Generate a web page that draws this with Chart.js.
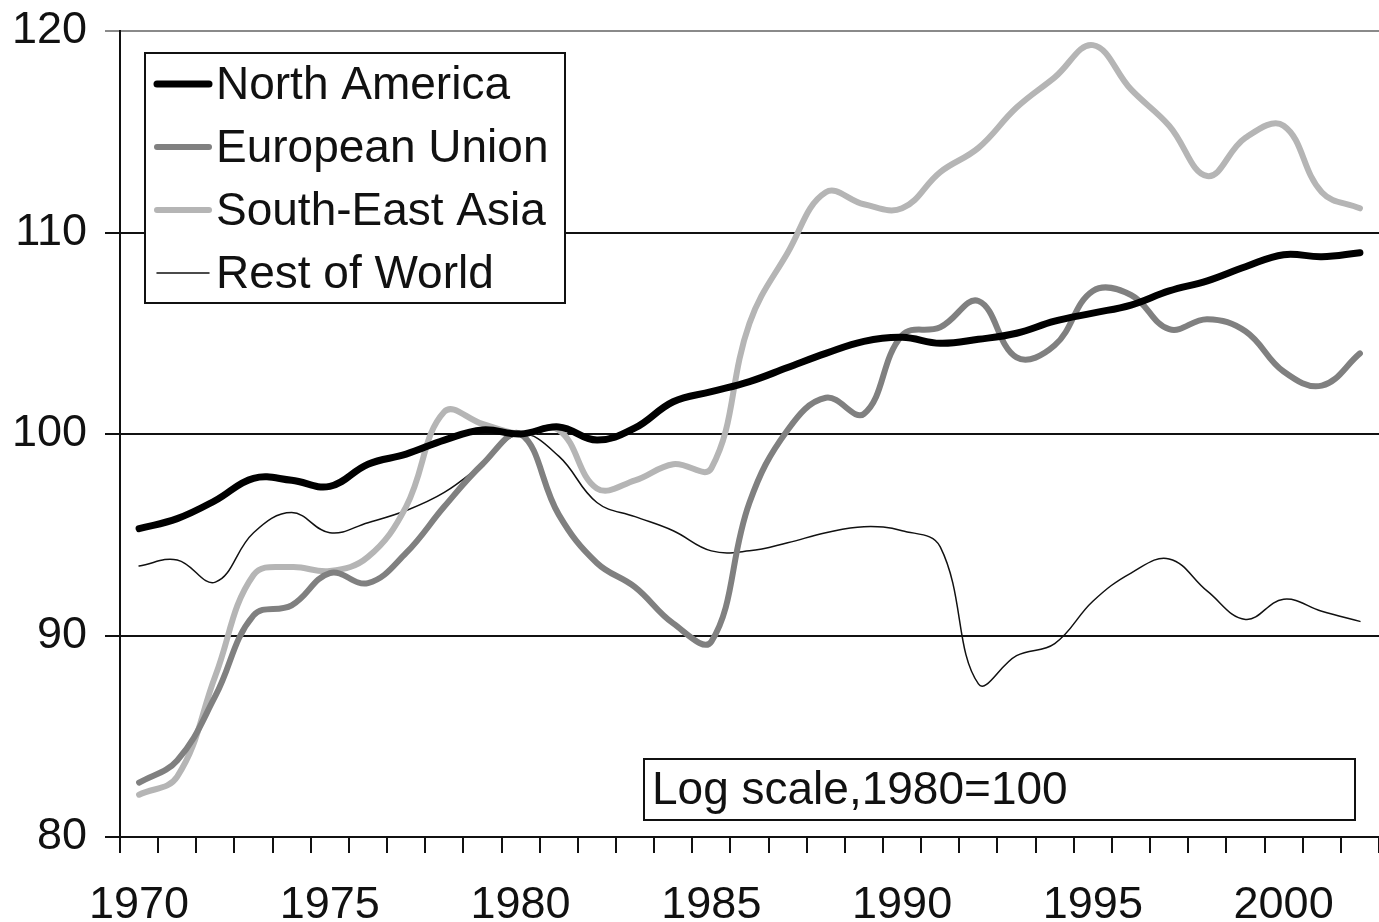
<!DOCTYPE html>
<html lang="en">
<head>
    <meta charset="UTF-8">
    <title>Regional index, 1980=100</title>
    <script src="https://cdn.jsdelivr.net/npm/chart.js@4.4.1/dist/chart.umd.min.js"></script>
    <style>
        body { margin: 0; background: #fff; }
    </style>
</head>
<body>
    <canvas id="mychart" width="1379" height="922"></canvas>
<script>
    const years = [];
    for (let y = 1970; y <= 2002; y++) years.push(String(y));

    const northAmerica = [95.3, 95.8, 96.7, 97.8, 97.7, 97.4, 98.5, 99.0, 99.7, 100.2,
        100.0, 100.35, 99.7, 100.3, 101.6, 102.1, 102.6, 103.3, 104.0, 104.6,
        104.8, 104.5, 104.7, 105.0, 105.6, 106.0, 106.4, 107.1, 107.6, 108.3,
        108.9, 108.8, 109.0];
    const europeanUnion = [82.7, 83.8, 87.0, 91.0, 91.5, 93.1, 92.6, 94.1, 96.4, 98.5,
        100.0, 96.0, 93.6, 92.4, 90.6, 89.7, 96.6, 100.2, 101.8, 101.0,
        104.9, 105.3, 106.6, 103.8, 104.4, 107.1, 106.9, 105.2, 105.7, 105.1,
        103.1, 102.4, 104.0];
    const southEastAsia = [82.1, 83.0, 88.0, 93.0, 93.4, 93.2, 93.9, 96.4, 101.1, 100.5,
        100.0, 100.2, 97.3, 97.7, 98.5, 98.3, 105.5, 109.0, 112.0, 111.4,
        111.2, 113.0, 114.2, 116.2, 117.7, 119.3, 117.1, 115.3, 112.8, 114.7,
        115.3, 112.0, 111.2];
    const restOfWorld = [93.45, 93.75, 92.65, 95.1, 96.1, 95.1, 95.6, 96.2, 97.1, 98.5,
        100.0, 98.9, 96.6, 95.9, 95.2, 94.2, 94.2, 94.6, 95.1, 95.4,
        95.2, 94.4, 87.6, 89.0, 89.6, 91.7, 93.1, 93.8, 92.2, 90.8,
        91.8, 91.2, 90.7];

    const yTicks = [80, 90, 100, 110, 120];
    const noteText = 'Log scale,1980=100';

    const FONT = '"Liberation Sans", Arial, sans-serif';

    // legend box and note box drawn on top of the plot
    const boxes = {
        id: 'boxes',
        afterDraw(chart) {
            const ctx = chart.ctx;
            const area = chart.chartArea;
            ctx.save();
            ctx.font = '46px ' + FONT;
            ctx.textBaseline = 'middle';

            // legend
            const lx = area.left + 25, ly = area.top + 22;
            ctx.fillStyle = '#fff';
            ctx.fillRect(lx, ly, 420, 250);
            ctx.strokeStyle = '#111';
            ctx.lineWidth = 2;
            ctx.strokeRect(lx, ly, 420, 250);
            chart.data.datasets.slice().sort((a, b) => a.legendRow - b.legendRow).forEach((ds, i) => {
                const cy = ly + 31 + i * 63;
                ctx.strokeStyle = ds.borderColor;
                ctx.lineWidth = ds.borderWidth;
                ctx.lineCap = 'round';
                ctx.beginPath();
                ctx.moveTo(lx + 12, cy);
                ctx.lineTo(lx + 64, cy);
                ctx.stroke();
                ctx.fillStyle = '#111';
                ctx.fillText(ds.label, lx + 71, cy + 2);
            });

            // note
            const nx = 644, nw = area.right - 24 - nx, nh = 61, ny = area.bottom - 17 - nh;
            ctx.fillStyle = '#fff';
            ctx.fillRect(nx, ny, nw, nh);
            ctx.strokeStyle = '#111';
            ctx.lineWidth = 2;
            ctx.lineCap = 'butt';
            ctx.strokeRect(nx, ny, nw, nh);
            ctx.fillStyle = '#111';
            ctx.fillText(noteText, nx + 8, ny + nh / 2 + 2);
            ctx.restore();
        }
    };

    const ctx = document.getElementById('mychart').getContext('2d');
    const myChart = new Chart(ctx, {
        type: 'line',
        data: {
            labels: years,
            datasets: [
                { label: 'Rest of World', data: restOfWorld, borderColor: '#111', borderWidth: 1.5, legendRow: 3, order: 4 },
                { label: 'South-East Asia', data: southEastAsia, borderColor: '#b5b5b5', borderWidth: 6, legendRow: 2, order: 3 },
                { label: 'European Union', data: europeanUnion, borderColor: '#808080', borderWidth: 6, legendRow: 1, order: 2 },
                { label: 'North America', data: northAmerica, borderColor: '#000', borderWidth: 7, legendRow: 0, order: 1 }
            ]
        },
        options: {
            responsive: false,
            animation: false,
            layout: { padding: { top: 31, right: 0, left: 0, bottom: 0 } },
            elements: {
                point: { radius: 0 },
                line: { tension: 0.4, fill: false, borderCapStyle: 'round' }
            },
            plugins: {
                legend: { display: false },
                tooltip: { enabled: false }
            },
            scales: {
                x: {
                    offset: true,
                    grid: {
                        offset: true,
                        drawOnChartArea: false,
                        drawTicks: true,
                        tickLength: 16,
                        color: '#111',
                        lineWidth: 2
                    },
                    border: { color: '#111', width: 2 },
                    ticks: {
                        autoSkip: false,
                        maxRotation: 0,
                        color: '#111',
                        padding: 26,
                        font: { family: FONT, size: 45 },
                        callback: function(value, index) {
                            const y = Number(years[index]);
                            return y % 5 === 0 ? String(y) : '';
                        }
                    },
                    afterFit: function(scale) {
                        scale.height = 85;
                        scale.paddingLeft = 0;
                        scale.paddingRight = 0;
                    }
                },
                y: {
                    min: 80,
                    max: 120,
                    afterBuildTicks: function(scale) {
                        scale.ticks = yTicks.map(v => ({ value: v }));
                    },
                    grid: {
                        tickLength: 15,
                        lineWidth: 2,
                        color: function(c) {
                            return c.tick && c.tick.value === 120 ? '#8a8a8a' : '#111';
                        }
                    },
                    border: { color: '#111', width: 2 },
                    ticks: {
                        color: '#111',
                        padding: 18,
                        font: { family: FONT, size: 45 }
                    },
                    afterFit: function(scale) {
                        scale.width = 120;
                        scale.paddingTop = 0;
                        scale.paddingBottom = 0;
                    }
                }
            }
        },
        plugins: [boxes]
    });
</script>
</body>
</html>
